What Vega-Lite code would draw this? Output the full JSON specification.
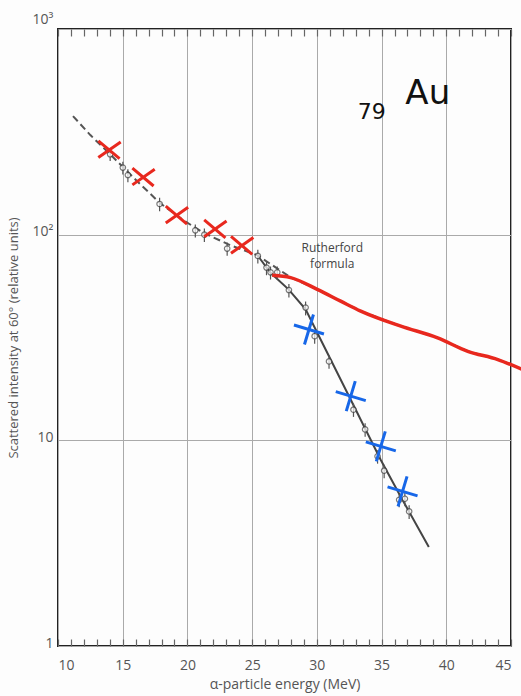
{
  "$schema": "https://vega.github.io/schema/vega-lite/v6.json",
  "width": 453,
  "height": 617,
  "autosize": "none",
  "padding": {"left": 58, "top": 29, "right": 10, "bottom": 50},
  "background": "#fdfdfd",
  "resolve": {"axis": {"x": "independent", "y": "independent"}},
  "config": {
    "view": {"stroke": "#222", "strokeWidth": 2},
    "font": "Open Sans",
    "axis": {"labelColor": "#555", "titleColor": "#555", "labelFont": "Open Sans", "titleFont": "Open Sans", "titleFontWeight": "normal", "ticks": true, "tickColor": "#666", "tickWidth": 1.2, "tickOpacity": 1}
  },
  "datasets": {
    "points": [
      {"E": 14.03, "I": 246, "lo": 228, "hi": 262},
      {"E": 15.01, "I": 212, "lo": 196, "hi": 226},
      {"E": 15.4, "I": 195, "lo": 180, "hi": 208},
      {"E": 17.85, "I": 141, "lo": 130, "hi": 151},
      {"E": 20.61, "I": 105, "lo": 97, "hi": 112},
      {"E": 21.31, "I": 100, "lo": 92, "hi": 107},
      {"E": 23.07, "I": 85.6, "lo": 79, "hi": 91.5},
      {"E": 25.44, "I": 78.8, "lo": 72.5, "hi": 84.5},
      {"E": 26.11, "I": 69.2, "lo": 63.5, "hi": 74},
      {"E": 26.42, "I": 65.6, "lo": 60.5, "hi": 70},
      {"E": 26.94, "I": 65.6, "lo": 60.5, "hi": 70},
      {"E": 27.84, "I": 53.8, "lo": 49.5, "hi": 57.5},
      {"E": 29.13, "I": 44.2, "lo": 40.5, "hi": 47.3},
      {"E": 29.83, "I": 32.1, "lo": 29.5, "hi": 34.3},
      {"E": 30.94, "I": 24.2, "lo": 22.3, "hi": 25.9},
      {"E": 32.83, "I": 14.1, "lo": 13, "hi": 15.1},
      {"E": 33.73, "I": 11.3, "lo": 10.4, "hi": 12.1},
      {"E": 34.69, "I": 8.36, "lo": 7.7, "hi": 8.95},
      {"E": 35.2, "I": 7.12, "lo": 6.55, "hi": 7.6},
      {"E": 36.36, "I": 5.14, "lo": 4.73, "hi": 5.5},
      {"E": 36.8, "I": 5.2, "lo": 4.78, "hi": 5.56},
      {"E": 37.13, "I": 4.51, "lo": 4.15, "hi": 4.83}
    ],
    "fit": [
      {"E": 25.41, "I": 79.4},
      {"E": 26.42, "I": 65.3},
      {"E": 27.81, "I": 54.2},
      {"E": 29.13, "I": 43.3},
      {"E": 30.29, "I": 30.9},
      {"E": 32.61, "I": 15.8},
      {"E": 34.93, "I": 8.05},
      {"E": 36.48, "I": 5.32},
      {"E": 38.65, "I": 3.03}
    ],
    "rutherford": [
      {"E": 11.16, "I": 377},
      {"E": 12.5, "I": 305},
      {"E": 14.03, "I": 246},
      {"E": 15.96, "I": 186},
      {"E": 17.9, "I": 142},
      {"E": 19.83, "I": 116},
      {"E": 21.31, "I": 101.5},
      {"E": 23.32, "I": 88.8},
      {"E": 25.41, "I": 79.4},
      {"E": 27.97, "I": 62},
      {"E": 30.03, "I": 54.2},
      {"E": 31.84, "I": 47.5},
      {"E": 33.39, "I": 42.5},
      {"E": 36.49, "I": 35.9},
      {"E": 39.33, "I": 31.5},
      {"E": 41.66, "I": 27.1},
      {"E": 43.98, "I": 24.7},
      {"E": 45, "I": 23.4}
    ],
    "red": [
      {"E": 26.55, "I": 63.4},
      {"E": 27.97, "I": 61.8},
      {"E": 30.03, "I": 54.2},
      {"E": 31.84, "I": 47.5},
      {"E": 33.39, "I": 42.5},
      {"E": 36.49, "I": 35.9},
      {"E": 39.33, "I": 31.5},
      {"E": 41.66, "I": 27.1},
      {"E": 43.98, "I": 24.7},
      {"E": 45.87, "I": 22.1}
    ],
    "redx": [
      {"E": 13.98, "I": 262},
      {"E": 16.61, "I": 193},
      {"E": 19.19, "I": 126},
      {"E": 22.16, "I": 108},
      {"E": 24.23, "I": 89.8}
    ],
    "bluex": [
      {"E": 29.39, "I": 34.6},
      {"E": 32.62, "I": 16.4},
      {"E": 34.94, "I": 9.35},
      {"E": 36.62, "I": 5.65}
    ],
    "labels": [
      {"E": 31.19, "I": 85.8, "t": "Rutherford"},
      {"E": 31.19, "I": 71.7, "t": "formula"}
    ],
    "element": [
      {"E": 34.24, "I": 394, "t": "79", "s": 22},
      {"E": 38.57, "I": 482, "t": "Au", "s": 34}
    ]
  },
  "layer": [
    {
      "data": {"name": "rutherford"},
      "mark": {"type": "line", "color": "#555", "strokeWidth": 2, "strokeDash": [7, 4]},
      "encoding": {
        "x": {
          "field": "E", "type": "quantitative",
          "scale": {"domain": [10, 45], "nice": false},
          "axis": {
            "orient": "bottom", "offset": -7,
            "values": [10,11,12,13,14,15,16,17,18,19,20,21,22,23,24,25,26,27,28,29,30,31,32,33,34,35,36,37,38,39,40,41,42,43,44,45],
            "tickSize": 7,
            "labelExpr": "datum.value % 5 === 0 ? datum.label : ''",
            "labelFontSize": 14, "labelPadding": 12,
            "domain": false, "grid": false,
            "title": "α-particle energy (MeV)", "titleFontSize": 14, "titlePadding": 5
          }
        },
        "y": {
          "field": "I", "type": "quantitative",
          "scale": {"type": "log", "domain": [1, 1000], "nice": false},
          "axis": {
            "values": [1, 10, 100, 1000],
            "labelExpr": "datum.value === 1000 ? '10³' : datum.value === 100 ? '10²' : datum.label",
            "labelFontSize": 14, "labelPadding": 5,
            "labelOffset": {"condition": {"test": "datum.value === 1000", "value": -10}, "value": -3},
            "ticks": false, "domain": false,
            "grid": true, "gridColor": "#aaa", "gridWidth": 1,
            "title": "Scattered intensity at 60° (relative units)", "titleFontSize": 13, "titlePadding": 12
          }
        }
      }
    },
    {
      "data": {"name": "rutherford"},
      "mark": {"type": "point", "opacity": 0},
      "encoding": {
        "x": {
          "field": "E", "type": "quantitative",
          "axis": {
            "orient": "top", "offset": -7,
            "values": [10,11,12,13,14,15,16,17,18,19,20,21,22,23,24,25,26,27,28,29,30,31,32,33,34,35,36,37,38,39,40,41,42,43,44,45],
            "tickSize": 7,
            "labels": false, "domain": false, "title": null,
            "grid": true, "gridColor": "#aaa", "gridWidth": 1,
            "gridOpacity": {"condition": {"test": "datum.value % 5 === 0", "value": 1}, "value": 0}
          }
        },
        "y": {"field": "I", "type": "quantitative", "axis": null}
      }
    },
    {
      "data": {"name": "fit"},
      "mark": {"type": "line", "color": "#444", "strokeWidth": 2},
      "encoding": {
        "x": {"field": "E", "type": "quantitative", "axis": null},
        "y": {"field": "I", "type": "quantitative", "axis": null}
      }
    },
    {
      "data": {"name": "points"},
      "mark": {"type": "rule", "color": "#555", "strokeWidth": 1.2},
      "encoding": {
        "x": {"field": "E", "type": "quantitative", "axis": null},
        "y": {"field": "lo", "type": "quantitative", "axis": null},
        "y2": {"field": "hi"}
      }
    },
    {
      "data": {"name": "points"},
      "mark": {"type": "point", "shape": "circle", "size": 30, "filled": true, "fill": "#fff", "stroke": "#444", "strokeWidth": 1.2},
      "encoding": {
        "x": {"field": "E", "type": "quantitative", "axis": null},
        "y": {"field": "I", "type": "quantitative", "axis": null}
      }
    },
    {
      "data": {"name": "red"},
      "mark": {"type": "line", "color": "#e8281e", "strokeWidth": 3.5, "clip": false, "interpolate": "monotone"},
      "encoding": {
        "x": {"field": "E", "type": "quantitative", "axis": null},
        "y": {"field": "I", "type": "quantitative", "axis": null}
      }
    },
    {
      "data": {"name": "redx"},
      "mark": {"type": "point", "shape": "M-1,-0.7L0.9,0.9M-1,0.8L1,-0.6", "size": 500, "stroke": "#e8281e", "strokeWidth": 3, "filled": false, "opacity": 1},
      "encoding": {
        "x": {"field": "E", "type": "quantitative", "axis": null},
        "y": {"field": "I", "type": "quantitative", "axis": null}
      }
    },
    {
      "data": {"name": "bluex"},
      "mark": {"type": "point", "shape": "M-1,-0.3L1,0.3M0.3,-1L-0.3,1", "size": 900, "stroke": "#1767e8", "strokeWidth": 3, "filled": false, "opacity": 1},
      "encoding": {
        "x": {"field": "E", "type": "quantitative", "axis": null},
        "y": {"field": "I", "type": "quantitative", "axis": null}
      }
    },
    {
      "data": {"name": "labels"},
      "mark": {"type": "text", "fontSize": 12, "color": "#444", "font": "Open Sans"},
      "encoding": {
        "x": {"field": "E", "type": "quantitative", "axis": null},
        "y": {"field": "I", "type": "quantitative", "axis": null},
        "text": {"field": "t"}
      }
    },
    {
      "data": {"name": "element"},
      "mark": {"type": "text", "color": "#111", "font": "DejaVu Sans"},
      "encoding": {
        "x": {"field": "E", "type": "quantitative", "axis": null},
        "y": {"field": "I", "type": "quantitative", "axis": null},
        "text": {"field": "t"},
        "size": {"field": "s", "type": "quantitative", "scale": null}
      }
    }
  ]
}
